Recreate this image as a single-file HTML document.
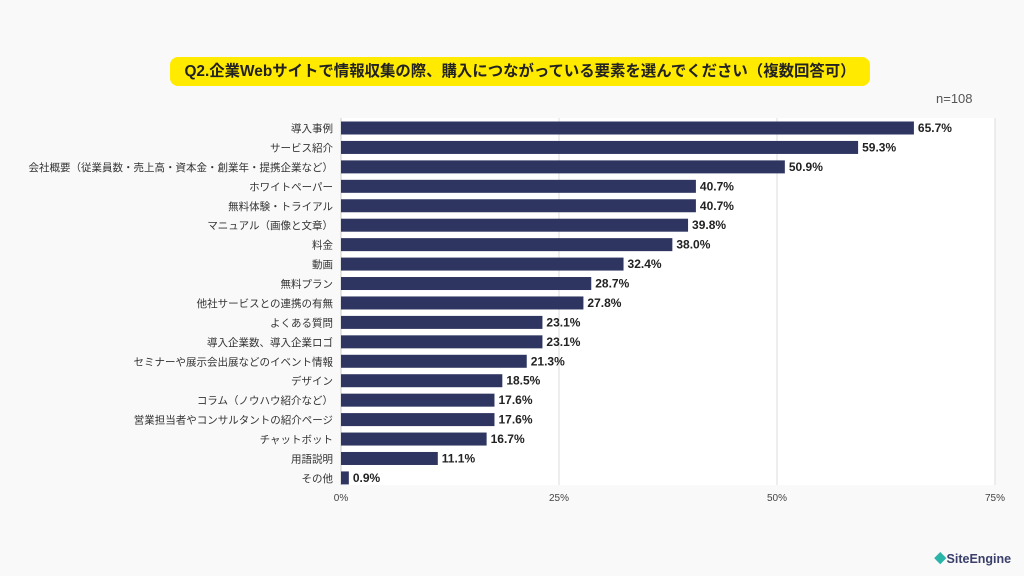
<!DOCTYPE html>
<html><head><meta charset="utf-8"><style>
body{margin:0;width:1024px;height:576px;background:#f9f9f9;font-family:"Liberation Sans","Noto Sans CJK JP",sans-serif;position:relative;overflow:hidden;color:#333}
.t{position:absolute;left:170px;top:57px;width:700px;height:29px;background:#ffea00;border-radius:8px;text-align:center;line-height:29px;font-weight:bold;font-size:15.4px;color:#222;white-space:nowrap}
.a{position:absolute}
</style></head><body>
<div class="t">Q2.企業Webサイトで情報収集の際、購入につながっている要素を選んでください（複数回答可）</div>
<div class="a" style="left:936px;top:91px;font-size:13px;color:#555">n=108</div>
<svg class="a" style="left:0;top:0" width="1024" height="576" font-family="Liberation Sans, Noto Sans CJK JP, sans-serif">
<rect x="341" y="118" width="654" height="367" fill="#fff"/>
<g stroke="#ddd" stroke-width="1"><line x1="559" y1="118" x2="559" y2="485"/><line x1="777" y1="118" x2="777" y2="485"/><line x1="995" y1="118" x2="995" y2="485"/></g>
<line x1="341" y1="118" x2="341" y2="485" stroke="#ccc"/>
<g font-size="10" fill="#444" text-anchor="middle"><text x="341" y="501">0%</text><text x="559" y="501">25%</text><text x="777" y="501">50%</text><text x="995" y="501">75%</text></g>
<g id="b"></g>
</svg>
<div class="a" style="left:934px;top:548px;font-size:12.5px;color:#3a3f6b;font-weight:bold"><span style="color:#2bb5a8">◆</span>SiteEngine</div>
<script>
var d=[["導入事例",65.7],["サービス紹介",59.3],["会社概要（従業員数・売上高・資本金・創業年・提携企業など）",50.9],["ホワイトペーパー",40.7],["無料体験・トライアル",40.7],["マニュアル（画像と文章）",39.8],["料金",38.0],["動画",32.4],["無料プラン",28.7],["他社サービスとの連携の有無",27.8],["よくある質問",23.1],["導入企業数、導入企業ロゴ",23.1],["セミナーや展示会出展などのイベント情報",21.3],["デザイン",18.5],["コラム（ノウハウ紹介など）",17.6],["営業担当者やコンサルタントの紹介ページ",17.6],["チャットボット",16.7],["用語説明",11.1],["その他",0.9]];
var s='';d.forEach(function(r,i){var y=121.5+i*19.44,w=r[1]*8.72;
s+='<rect x="341" y="'+y+'" width="'+w+'" height="13" fill="#2e3560"/>';
s+='<text x="333" y="'+(y+10.5)+'" font-size="10.5" fill="#333" text-anchor="end">'+r[0]+'</text>';
s+='<text x="'+(345+w)+'" y="'+(y+10.5)+'" font-size="12" font-weight="bold" fill="#222">'+r[1].toFixed(1)+'%</text>';});
document.getElementById('b').innerHTML=s;
</script>
</body></html>
